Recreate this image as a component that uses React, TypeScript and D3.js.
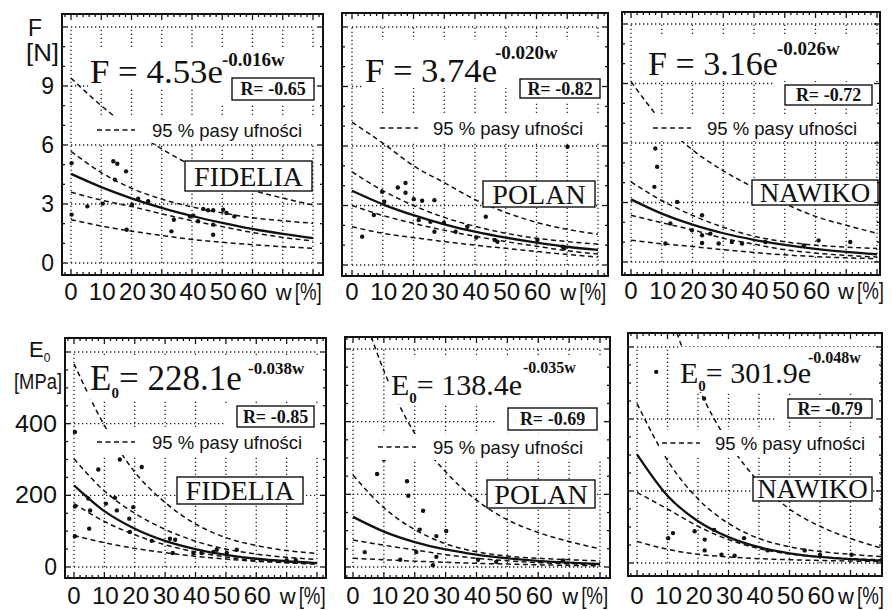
import React from "react";
import * as d3 from "d3";

// values: w = moisture [%], F [N], E0 [MPa]
const W_STEPS = [0, 10, 20, 30, 40, 50, 60, 70, 80];
const X_GRID = [0, 10, 20, 30, 40, 50, 60, 70, 80];
const X_TICK_LABELS = [0, 10, 20, 30, 40, 50, 60];
const F_GRID = [0, 3, 6, 9, 12];
const F_TICK_LABELS = [0, 3, 6, 9];
const E_GRID = [0, 200, 400, 600];
const E_TICK_LABELS = [0, 200, 400];

// F, FIDELIA
const fidFFit = [4.53, 3.86, 3.29, 2.8, 2.39, 2.04, 1.73, 1.48, 1.26];
const fidFUpOuter = [9.4, 8.0, 6.8, 5.8, 4.95, 4.25, 3.7, 3.3, 2.95];
const fidFUpInner = [5.68, 4.6, 3.8, 3.25, 2.85, 2.55, 2.3, 2.15, 2.02];
const fidFLoInner = [3.6, 3.2, 2.87, 2.5, 2.15, 1.85, 1.55, 1.3, 1.12];
const fidFLoOuter = [2.2, 1.88, 1.62, 1.4, 1.2, 1.05, 0.93, 0.83, 0.75];
const fidFPts = [
  [0.2, 5.08], [0.2, 2.46], [5.4, 2.88], [10.5, 3.02], [14, 5.17], [15.3, 5.05],
  [14.5, 4.24], [18.2, 4.66], [18.4, 1.69], [20.2, 2.97], [22.2, 3.27], [25.5, 3.14],
  [33.2, 1.61], [34, 2.2], [39.3, 2.37], [40.4, 2.41], [42, 2.12], [43.7, 2.75],
  [45.3, 2.68], [47, 2.68], [47, 1.95], [47, 1.44], [50.3, 2.71], [51.4, 2.54], [54, 2.37],
];

// F, POLAN
const polFFit = [3.74, 3.06, 2.51, 2.05, 1.68, 1.38, 1.13, 0.92, 0.76];
const polFUpOuter = [7.2, 6.15, 5.0, 4.15, 3.3, 2.65, 2.15, 1.8, 1.55];
const polFUpInner = [4.7, 3.75, 3.0, 2.4, 1.95, 1.6, 1.35, 1.18, 1.05];
const polFLoInner = [3.0, 2.5, 2.1, 1.75, 1.45, 1.18, 0.95, 0.72, 0.55];
const polFLoOuter = [1.93, 1.6, 1.38, 1.18, 1.0, 0.84, 0.68, 0.53, 0.4];
const polFPts = [
  [3.3, 1.43], [7.1, 2.52], [9.8, 3.69], [10.5, 3.19], [14.9, 3.91], [17.4, 4.14],
  [17.4, 3.64], [20.1, 3.32], [22.8, 3.24], [26.8, 3.27], [21.7, 2.27], [25.5, 2.18],
  [26.8, 1.68], [29.9, 2.13], [33.7, 1.68], [37.5, 1.93], [40.4, 1.39], [43.5, 2.43],
  [46.4, 1.26], [47.3, 1.17], [60.3, 1.26], [68.5, 0.92], [69, 0.84], [70.1, 5.96],
];

// F, NAWIKO
const nawFFit = [3.16, 2.44, 1.88, 1.45, 1.12, 0.86, 0.66, 0.51, 0.39];
const nawFUpOuter = [9.1, 7.1, 5.65, 4.6, 3.75, 2.95, 2.3, 1.85, 1.45];
const nawFUpInner = [4.04, 3.1, 2.35, 1.75, 1.3, 1.02, 0.85, 0.75, 0.68];
const nawFLoInner = [2.36, 1.98, 1.62, 1.2, 0.9, 0.62, 0.45, 0.33, 0.25];
const nawFLoOuter = [1.1, 0.92, 0.78, 0.62, 0.48, 0.36, 0.27, 0.21, 0.17];
const nawFPts = [
  [7.9, 5.72], [8.5, 4.8], [7.6, 3.79], [15, 3.03], [12.8, 1.94], [11.2, 0.93],
  [19.8, 1.6], [23.1, 2.36], [23.1, 1.35], [23.1, 0.96], [25.8, 1.43], [28.5, 0.93],
  [32.8, 1.01], [36.1, 0.93], [43.7, 1.01], [56.2, 0.84], [61, 1.09], [71.3, 1.01],
];

// E0, FIDELIA
const fidEFit = [228, 156, 107, 73, 50, 34, 23, 16, 11];
const fidEUpOuter = [567, 395, 265, 180, 120, 82, 60, 46, 38];
const fidEUpInner = [302, 212, 150, 105, 72, 50, 36, 27, 21];
const fidELoInner = [177, 127, 90, 62, 42, 28, 18, 12, 8];
const fidELoOuter = [88, 68, 52, 40, 30, 22, 16, 12, 9];
const fidEPts = [
  [0.3, 377], [0.3, 169], [0.3, 86], [4.7, 191], [5.3, 158], [5, 107], [8, 272],
  [10.5, 177], [13.5, 193], [14.1, 158], [15.1, 300], [18.2, 135], [18.4, 98],
  [19.5, 167], [22.3, 279], [25.6, 73], [31.6, 79], [33.3, 76], [32.5, 39],
  [39.3, 39], [42, 39], [45.9, 42], [47, 48], [50.3, 39], [53.6, 48], [70, 19], [73, 19],
];

// E0, POLAN
const polEFit = [138, 97.5, 68.7, 48.4, 34.1, 24.1, 16.9, 11.9, 8.4];
const polEUpOuter = [790, 540, 368, 262, 184, 130, 95, 70, 50];
const polEUpInner = [253, 163, 103, 64, 42, 30, 24, 20, 17];
const polELoInner = [74, 60, 47, 34, 24, 17, 12, 9, 6];
const polELoOuter = [24, 20, 16, 13, 10, 8, 6, 4.5, 3.5];
const polEPts = [
  [7.8, 256], [10, 296], [17.5, 236], [17.9, 196], [22.7, 155], [21.6, 103],
  [27, 85], [30.2, 99], [3.8, 41], [15.3, 20], [20.5, 41], [27, 28], [25.9, 5],
  [40.5, 20], [46.4, 14], [68, 18],
];

// E0, NAWIKO
const nawEFit = [302, 187, 116, 72, 44, 27, 17, 10.5, 6.5];
const nawEUpOuter = [1050, 720, 490, 335, 225, 150, 102, 68, 42];
const nawEUpInner = [443, 285, 178, 110, 68, 45, 32, 24, 18];
const nawELoInner = [196, 150, 102, 65, 40, 25, 17, 12, 9];
const nawELoOuter = [60, 38, 24, 17, 12, 9, 7, 5.5, 4.5];
const nawEPts = [
  [6.3, 531], [22, 457], [10.2, 69], [11.8, 83], [18.9, 88], [22.2, 65], [22.2, 35],
  [27.7, 23], [32, 20], [35.1, 69], [42.8, 35], [55, 35], [60, 23], [70.3, 23], [25.3, 92],
];

const SANS = "'Liberation Sans', Arial, sans-serif";
const SERIF = "'Liberation Serif', 'Times New Roman', serif";
const INK = "#111";

// layout of the six panels (pixel positions measured on the figure)
const panels = [
  {
    id: "p1", name: "FIDELIA", sym: "F", coef: "= 4.53e", expo: "-0.016w", r: "R= -0.65",
    fit: fidFFit, bands: [fidFUpOuter, fidFUpInner, fidFLoInner, fidFLoOuter], pts: fidFPts,
    grid: F_GRID, yTop: 12, minorY: 1, frame: [62, 14, 323, 275], px: [71, 313], py: [263, 27],
    eq: { x: 90, y: 83, size: 34, len: 133 }, ex: { x: 222, y: 66, size: 19 },
    rBox: [232, 78, 82, 22], leg: { x: 97, y: 130, tx: 152 }, nameBox: [185, 161, 127, 30],
    nameSize: 28, labelY: 300,
  },
  {
    id: "p2", name: "POLAN", sym: "F", coef: "= 3.74e", expo: "-0.020w", r: "R= -0.82",
    fit: polFFit, bands: [polFUpOuter, polFUpInner, polFLoInner, polFLoOuter], pts: polFPts,
    grid: F_GRID, yTop: 12, minorY: 1, frame: [342, 13, 608, 276], px: [352, 598], py: [265, 27],
    eq: { x: 365, y: 82, size: 34, len: 132 }, ex: { x: 495, y: 59, size: 19 },
    rBox: [520, 79, 80, 19], leg: { x: 380, y: 128, tx: 433 }, nameBox: [483, 181, 112, 26],
    nameSize: 28, labelY: 300,
  },
  {
    id: "p3", name: "NAWIKO", sym: "F", coef: "= 3.16e", expo: "-0.026w", r: "R= -0.72",
    fit: nawFFit, bands: [nawFUpOuter, nawFUpInner, nawFLoInner, nawFLoOuter], pts: nawFPts,
    grid: F_GRID, yTop: 12, minorY: 1, frame: [622, 12, 880, 275], px: [631, 877], py: [262, 24],
    eq: { x: 648, y: 75, size: 34, len: 130 }, ex: { x: 777, y: 55, size: 19 },
    rBox: [785, 85, 87, 20], leg: { x: 653, y: 128, tx: 707 }, nameBox: [752, 180, 126, 25],
    nameSize: 27, labelY: 299,
  },
  {
    id: "p4", name: "FIDELIA", sym: "E", coef: "= 228.1e", expo: "-0.038w", r: "R= -0.85",
    fit: fidEFit, bands: [fidEUpOuter, fidEUpInner, fidELoInner, fidELoOuter], pts: fidEPts,
    grid: E_GRID, yTop: 600, minorY: 50, frame: [65, 338, 326, 578], px: [74, 317], py: [567, 352],
    eq: { x: 90, y: 390, size: 35, len: 0 }, ex: { x: 248, y: 374, size: 17 },
    rBox: [237, 406, 77, 21], leg: { x: 97, y: 442, tx: 152 }, nameBox: [177, 477, 126, 27],
    nameSize: 28, labelY: 604,
  },
  {
    id: "p5", name: "POLAN", sym: "E", coef: "= 138.4e", expo: "-0.035w", r: "R= -0.69",
    fit: polEFit, bands: [polEUpOuter, polEUpInner, polELoInner, polELoOuter], pts: polEPts,
    grid: E_GRID, yTop: 600, minorY: 50, frame: [345, 337, 610, 578], px: [353, 600], py: [567, 349],
    eq: { x: 391, y: 395, size: 30, len: 0 }, ex: { x: 523, y: 373, size: 16 },
    rBox: [508, 408, 89, 22], leg: { x: 378, y: 447, tx: 433 }, nameBox: [487, 480, 108, 28],
    nameSize: 28, labelY: 604,
  },
  {
    id: "p6", name: "NAWIKO", sym: "E", coef: "= 301.9e", expo: "-0.048w", r: "R= -0.79",
    fit: nawEFit, bands: [nawEUpOuter, nawEUpInner, nawELoInner, nawELoOuter], pts: nawEPts,
    grid: E_GRID, yTop: 600, minorY: 50, frame: [628, 333, 882, 576], px: [637, 881], py: [563, 347],
    eq: { x: 680, y: 383, size: 30, len: 0 }, ex: { x: 808, y: 363, size: 16 },
    rBox: [788, 399, 84, 19], leg: { x: 662, y: 443, tx: 715 }, nameBox: [753, 477, 119, 24],
    nameSize: 27, labelY: 604,
  },
];

type PanelCfg = (typeof panels)[number];

function Panel({ p }: { p: PanelCfg }) {
  const [fx0, fy0, fx1, fy1] = p.frame;
  const x = d3.scaleLinear().domain([0, 80]).range(p.px);
  const y = d3.scaleLinear().domain([0, p.yTop]).range(p.py);
  const line = d3
    .line<number>()
    .x((_, i) => x(W_STEPS[i]))
    .y((d) => y(d))
    .curve(d3.curveMonotoneX);
  const clipId = `clip-${p.id}`;

  const xTicks = d3.range(-4, 86, 2).filter((v) => x(v) > fx0 + 1 && x(v) < fx1 - 1);
  const yTicks = d3
    .range(-p.minorY * 2, p.yTop + p.minorY * 3, p.minorY)
    .filter((v) => y(v) > fy0 + 1 && y(v) < fy1 - 1);
  const isMajorY = (v: number) => p.grid.includes(v);

  const [rx, ry, rw, rh] = p.rBox;
  const [nx, ny, nw, nh] = p.nameBox;
  const eqTop = p.ex.y - p.ex.size;
  const eqBottom = p.eq.y + (p.sym === "E" ? 9 : 6);
  const pctX = Math.min(x(70) + 12, 857);

  return (
    <g>
      <defs>
        <clipPath id={clipId}>
          <rect x={fx0} y={fy0} width={fx1 - fx0} height={fy1 - fy0} />
        </clipPath>
      </defs>
      <g clipPath={`url(#${clipId})`}>
        {X_GRID.map((v) => (
          <line key={"gx" + v} x1={x(v)} x2={x(v)} y1={y(0)} y2={y(p.yTop)}
            stroke="#222" strokeWidth={1.3} strokeDasharray="1.3 2.7" />
        ))}
        {p.grid.map((v) => (
          <line key={"gy" + v} x1={x(0)} x2={x(80)} y1={y(v)} y2={y(v)}
            stroke="#222" strokeWidth={1.3} strokeDasharray="1.3 2.7" />
        ))}
        {p.bands.map((b, i) => (
          <path key={"b" + i} d={line(b) || ""} fill="none" stroke={INK}
            strokeWidth={1.5} strokeDasharray="5 3.5" />
        ))}
        <path d={line(p.fit) || ""} fill="none" stroke={INK} strokeWidth={2.3} />
        {p.pts.map(([w, v], i) => (
          <circle key={"pt" + i} cx={x(w)} cy={y(v)} r={2.2} fill={INK} />
        ))}
        {/* white backgrounds of the text blocks */}
        <rect x={p.eq.x - 2} y={eqTop} width={fx1 - p.eq.x} height={eqBottom - eqTop} fill="#fff" />
        <rect x={rx - 12} y={ry - 3} width={fx1 - rx + 12} height={rh + 6} fill="#fff" />
        <rect x={p.leg.x - 3} y={p.leg.y - 13} width={fx1 - p.leg.x + 3} height={26} fill="#fff" />
      </g>

      {/* equation */}
      {p.sym === "F" ? (
        <text x={p.eq.x} y={p.eq.y} fontFamily={SERIF} fontSize={p.eq.size} fill={INK}
          textLength={p.eq.len} lengthAdjust="spacingAndGlyphs">
          {`F ${p.coef}`}
        </text>
      ) : (
        <text x={p.eq.x} y={p.eq.y} fontFamily={SERIF} fontSize={p.eq.size} fill={INK}>
          E
          <tspan fontSize={15} fontWeight="bold" dy={8}>0</tspan>
          <tspan dy={-8}>{p.coef}</tspan>
        </text>
      )}
      <text x={p.ex.x} y={p.ex.y} fontFamily={SERIF} fontSize={p.ex.size} fontWeight="bold" fill={INK}>
        {p.expo}
      </text>

      {/* R box */}
      <rect x={rx} y={ry} width={rw} height={rh} fill="#fff" stroke={INK} strokeWidth={1.4} />
      <text x={rx + rw / 2} y={ry + rh / 2 + 6} textAnchor="middle" fontFamily={SERIF}
        fontSize={18} fontWeight="bold" fill={INK}>
        {p.r}
      </text>

      {/* legend */}
      <line x1={p.leg.x} x2={p.leg.x + 38} y1={p.leg.y} y2={p.leg.y} stroke={INK}
        strokeWidth={1.5} strokeDasharray="5 3.5" />
      <text x={p.leg.tx} y={p.leg.y + 7} fontFamily={SANS} fontSize={18.5} fill={INK}>
        95 % pasy ufności
      </text>

      {/* product name */}
      <rect x={nx} y={ny} width={nw} height={nh} fill="#fff" stroke={INK} strokeWidth={1.4} />
      <text x={nx + nw / 2} y={ny + nh / 2 + p.nameSize * 0.34} textAnchor="middle"
        fontFamily={SERIF} fontSize={p.nameSize} fill={INK}>
        {p.name}
      </text>

      {/* frame and ticks */}
      <rect x={fx0} y={fy0} width={fx1 - fx0} height={fy1 - fy0} fill="none" stroke={INK} strokeWidth={2} />
      {xTicks.map((v) => {
        const len = v % 10 === 0 ? 6 : 3;
        return (
          <g key={"tx" + v}>
            <line x1={x(v)} x2={x(v)} y1={fy0} y2={fy0 + len} stroke={INK} strokeWidth={1.3} />
            <line x1={x(v)} x2={x(v)} y1={fy1} y2={fy1 - len} stroke={INK} strokeWidth={1.3} />
          </g>
        );
      })}
      {yTicks.map((v) => {
        const len = isMajorY(v) ? 6 : 3;
        return (
          <g key={"ty" + v}>
            <line x1={fx0} x2={fx0 + len} y1={y(v)} y2={y(v)} stroke={INK} strokeWidth={1.3} />
            <line x1={fx1} x2={fx1 - len} y1={y(v)} y2={y(v)} stroke={INK} strokeWidth={1.3} />
          </g>
        );
      })}

      {/* x tick labels */}
      {X_TICK_LABELS.map((v) => (
        <text key={"lx" + v} x={x(v) + (v === 0 ? 0 : 1)} y={p.labelY} textAnchor="middle"
          fontFamily={SANS} fontSize={24} fill={INK} textLength={v === 0 ? undefined : 27}
          lengthAdjust="spacingAndGlyphs">
          {v}
        </text>
      ))}
      <text x={pctX - 19} y={p.labelY} fontFamily={SANS} fontSize={22} fill={INK}>
        w
      </text>
      <text x={pctX} y={p.labelY} fontFamily={SANS} fontSize={24} fill={INK}
        textLength={27} lengthAdjust="spacingAndGlyphs">
        [%]
      </text>
    </g>
  );
}

export default function App() {
  const p1 = panels[0];
  const p4 = panels[3];
  const yF = d3.scaleLinear().domain([0, p1.yTop]).range(p1.py);
  const yE = d3.scaleLinear().domain([0, p4.yTop]).range(p4.py);

  return (
    <svg width={892} height={610} viewBox="0 0 892 610"
      style={{ position: "absolute", left: 0, top: 0, background: "#fff" }}>
      <rect x={0} y={0} width={892} height={610} fill="#fff" />

      {/* left axis titles and value labels */}
      <text x={28} y={36} fontFamily={SANS} fontSize={23} fill={INK}>F</text>
      <text x={26} y={61} fontFamily={SANS} fontSize={23} fill={INK} textLength={33}
        lengthAdjust="spacingAndGlyphs">[N]</text>
      {F_TICK_LABELS.map((v) => (
        <text key={"fy" + v} x={54} y={yF(v) + 8} textAnchor="end" fontFamily={SANS} fontSize={23} fill={INK}>
          {v}
        </text>
      ))}

      <text x={29} y={357} fontFamily={SANS} fontSize={22} fill={INK}>
        E<tspan fontSize={12} dy={5}>0</tspan>
      </text>
      <text x={14} y={389} fontFamily={SANS} fontSize={22} fill={INK} textLength={48}
        lengthAdjust="spacingAndGlyphs">[MPa]</text>
      {E_TICK_LABELS.map((v) => (
        <text key={"ey" + v} x={57} y={yE(v) + 8} textAnchor="end" fontFamily={SANS} fontSize={23} fill={INK}
          textLength={v === 0 ? undefined : 42} lengthAdjust="spacingAndGlyphs">
          {v}
        </text>
      ))}

      {panels.map((p) => (
        <Panel key={p.id} p={p} />
      ))}
    </svg>
  );
}
